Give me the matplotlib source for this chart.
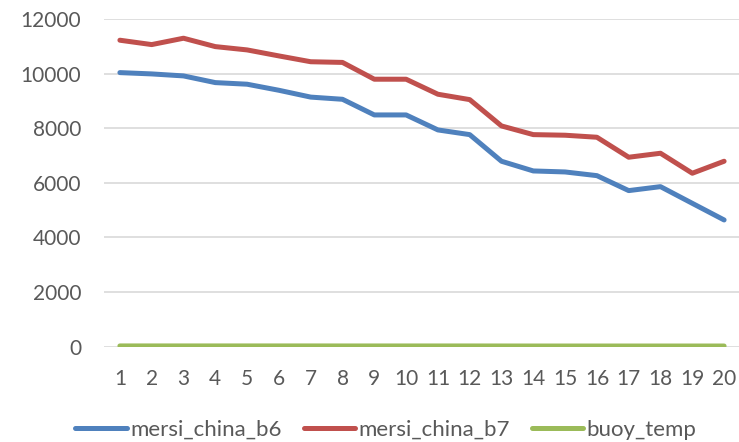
import matplotlib
matplotlib.use("Agg")
import matplotlib.pyplot as plt

# Data series
x = list(range(1, 21))
mersi_china_b6 = [10037, 9989, 9916, 9671, 9612, 9390, 9140, 9060, 8487, 8487,
                  7938, 7766, 6791, 6436, 6399, 6264, 5716, 5861, 5250, 4641]
mersi_china_b7 = [11223, 11063, 11296, 10989, 10868, 10648, 10435, 10410, 9795, 9795,
                  9245, 9048, 8084, 7766, 7744, 7670, 6938, 7084, 6352, 6791]
buoy_temp = [28, 28, 28, 28, 28, 28, 28, 27, 27, 27,
             27, 27, 26, 25, 25, 25, 25, 25, 25, 25]
series_names = ["mersi_china_b6", "mersi_china_b7", "buoy_temp"]
y_ticks = [0, 2000, 4000, 6000, 8000, 10000, 12000]

plt.rcParams["font.family"] = ["Lato", "DejaVu Sans"]
text_color = "#595959"

fig = plt.figure(figsize=(7.39, 4.42), dpi=100)
ax = fig.add_axes([104 / 739, 1 - 346.7 / 442, 636 / 739, (346.7 - 19) / 442])

colors = ["#4F81BD", "#C0504D", "#9BBB59"]
for vals, name, c in zip([mersi_china_b6, mersi_china_b7, buoy_temp], series_names, colors):
    ax.plot(x, vals, color=c, lw=3.6, solid_capstyle="round", solid_joinstyle="round",
            label=name, zorder=3)

ax.set_xlim(0.5, 20.5)
ax.set_ylim(0, 12000)
ax.set_yticks(y_ticks)
ax.set_xticks(x)
ax.grid(axis="y", color="#D9D9D9", lw=1.2, zorder=0)
for s in ax.spines.values():
    s.set_visible(False)
ax.tick_params(axis="both", length=0, labelsize=15, colors=text_color)
ax.tick_params(axis="y", pad=16.5)
ax.tick_params(axis="x", pad=16)

fig.legend(loc="center", bbox_to_anchor=(0.522, 1 - 430 / 442), ncol=3, frameon=False,
           fontsize=16, labelcolor=text_color, handlelength=2.3, handletextpad=0.15,
           columnspacing=1.0)

fig.savefig("out.png", dpi=100, facecolor="white")
